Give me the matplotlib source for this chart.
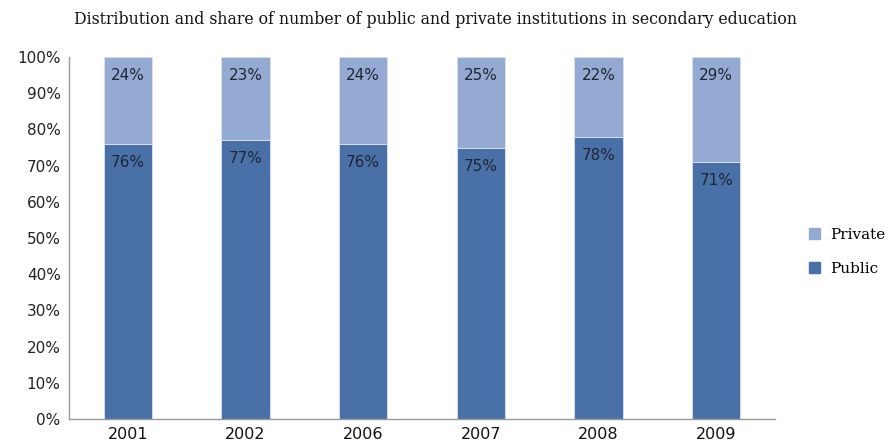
import matplotlib
matplotlib.use("Agg")
import matplotlib.pyplot as plt
from matplotlib.patches import Patch

years = ["2001", "2002", "2006", "2007", "2008", "2009"]
public = [76, 77, 76, 75, 78, 71]
private = [24, 23, 24, 25, 22, 29]
yticks = [0, 10, 20, 30, 40, 50, 60, 70, 80, 90, 100]

c_public = "#4A70A8"
c_private = "#95AAD3"
txt = "#1E2633"

fig = plt.figure(figsize=(8.95, 4.42), dpi=100)
ax = fig.add_axes([0.0771, 0.052, 0.789, 0.819])

x = list(range(len(years)))
w = 0.41
ax.bar(x, public, width=w, color=c_public, edgecolor="#DCE3F0", linewidth=0.6)
ax.bar(x, private, width=w, bottom=public, color=c_private, edgecolor="#DCE3F0", linewidth=0.6)

for xi, p, q in zip(x, public, private):
    ax.annotate(f"{p}%", (xi, p), xytext=(0, -8), textcoords="offset points",
                ha="center", va="top", fontsize=11, color=txt, family="DejaVu Sans")
    ax.annotate(f"{q}%", (xi, p + q), xytext=(0, -8), textcoords="offset points",
                ha="center", va="top", fontsize=11, color=txt, family="DejaVu Sans")

ax.set_xlim(-0.5, len(years) - 0.5)
ax.set_ylim(0, 100)
ax.set_yticks(yticks)
ax.set_yticklabels([f"{v}%" for v in yticks], fontsize=11, color="#222222")
ax.set_xticks(x)
ax.set_xticklabels(years, fontsize=11.5, color="#111111")
ax.tick_params(axis="both", length=0, pad=6)
for s in ("top", "right"):
    ax.spines[s].set_visible(False)
for s in ("left", "bottom"):
    ax.spines[s].set_color("#999999")
    ax.spines[s].set_linewidth(1.0)

fig.text(0.487, 0.955, "Distribution and share of number of public and private institutions in secondary education",
         ha="center", va="center", fontsize=11.3, family="DejaVu Serif", color="#111111")

handles = [Patch(color=c_private, label="Private"), Patch(color=c_public, label="Public")]
fig.legend(handles=handles, loc="center left", bbox_to_anchor=(0.897, 0.43),
           frameon=False, handlelength=0.7, handleheight=0.7,
           handletextpad=0.7, labelspacing=1.3, borderaxespad=0,
           prop={"family": "DejaVu Serif", "size": 11})

fig.savefig("out.png", dpi=100)
